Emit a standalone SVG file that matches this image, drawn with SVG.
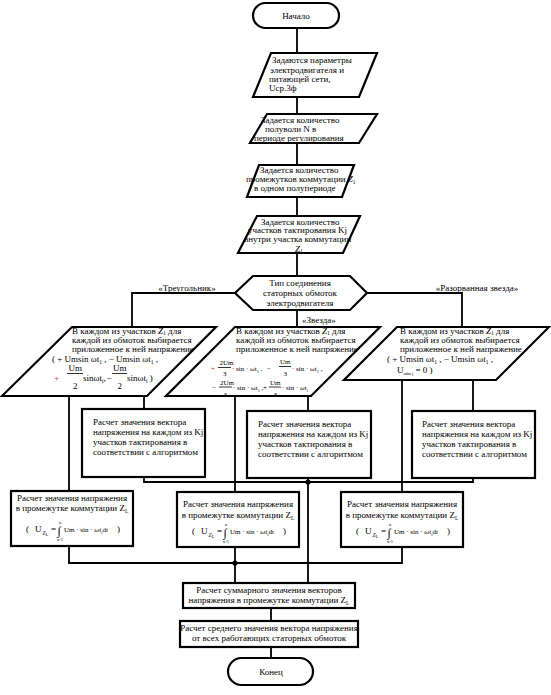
<svg xmlns="http://www.w3.org/2000/svg" width="551" height="695" viewBox="0 0 551 695">
<style>
.s{fill:#fff;stroke:#000;stroke-width:2.2}
.c{fill:none;stroke:#000;stroke-width:1.8}
.fb{fill:none;stroke:#000;stroke-width:0.8}
text{font-family:"Liberation Serif","Times New Roman",serif;font-size:9px;fill:#000}
.m{text-anchor:middle}
.f{font-size:7px}
.sb{font-size:5.5px}
.t{font-size:4.5px}
.it{font-style:italic}
.r{fill:#d03030}
.ig{font-size:12px}
</style>
<rect width="551" height="695" fill="#fff"/>
<g id="connectors">
<path class="c" d="M297,28V53 M297,97V114 M297,143V165 M297,197V216 M297,253V276 M235,293H132V327 M297,310V327 M367,293H462V327 M69,396V491 M144,396V409 M235,396V492 M308,396V411 M402,380V492 M473,380V411 M144,477V482H473V478 M308,478V583 M69,546V563H402V547 M235,547V583 M271,608V621 M271,647V658"/>
<circle cx="308" cy="482" r="2.6"/>
<circle cx="235" cy="563" r="2.6"/>
<text x="187" y="291" class="m">«Треугольник»</text>
<text x="302" y="323">«Звезда»</text>
<text x="477" y="291" class="m">«Разорванная звезда»</text>
</g>
<g id="n-start">
<rect class="s" x="253" y="3" width="86" height="25" rx="12.5"/>
<text x="296" y="19" class="m">Начало</text>
</g>
<g id="n-p1">
<polygon class="s" points="271,53 377,53 359,97 253,97"/>
<text x="272" y="63">Задаются параметры</text>
<text x="270" y="73">электродвигателя и</text>
<text x="269" y="82">питающей сети,</text>
<text x="269" y="91">Uср.3ф</text>
</g>
<g id="n-p2">
<polygon class="s" points="267,114 377,114 359,143 250,143"/>
<text x="261" y="123">Задается количество</text>
<text x="265" y="132">полуволи N в</text>
<text x="254" y="141">периоде регулирования</text>
</g>
<g id="n-p3">
<polygon class="s" points="259,165 354,165 342,197 247,197"/>
<text x="260" y="173">Задается количество</text>
<text x="246" y="182">промежутков коммутации <tspan class="it">Z</tspan><tspan class="sb" dy="1.5">1</tspan></text>
<text x="254" y="191">в одном полупериоде</text>
</g>
<g id="n-p4">
<polygon class="s" points="257,216 360,216 343,253 238,253"/>
<text x="261" y="224.5">Задается количество</text>
<text x="248" y="233">участков тактирования Kj</text>
<text x="244" y="241.5">внутри участка коммутации</text>
<text x="295" y="251.5"><tspan class="it">Z</tspan><tspan class="sb" dy="1.5">1</tspan></text>
</g>
<g id="n-type">
<polygon class="s" points="235,293 253,276 350,276 367,293 350,310 253,310"/>
<text x="300" y="286" class="m">Тип соединения</text>
<text x="300" y="296" class="m">статорных обмоток</text>
<text x="300" y="306" class="m">электродвигателя</text>
</g>
<g id="n-tri">
<polygon class="s" points="72,327 216,327 147,396 2,396"/>
<text x="72" y="333.5">В каждом из участков <tspan class="it">Z</tspan><tspan class="sb" dy="1.5">1</tspan><tspan dy="-1.5"> для</tspan></text>
<text x="72" y="342.5">каждой из обмоток выбирается</text>
<text x="72" y="351.5">приложенное к ней напряжение</text>
<text x="52" y="362">( + Umsin ωt<tspan class="sb" dy="1.5">1</tspan><tspan dy="-1.5"> , − Umsin ωt</tspan><tspan class="sb" dy="1.5">1</tspan><tspan dy="-1.5"> ,</tspan></text>
<text y="381"><tspan x="54" class="r">+</tspan><tspan x="68.5" y="371">Um</tspan><tspan x="73" y="389">2</tspan><tspan x="83" y="381">sinωt</tspan><tspan class="sb" dy="1.5">i</tspan><tspan dy="-1.5">,</tspan><tspan x="106.5">−</tspan><tspan x="113" y="371">Um</tspan><tspan x="117.5" y="389">2</tspan><tspan x="127" y="381">sinωt</tspan><tspan class="sb" dy="1.5">i</tspan><tspan dy="-1.5"> )</tspan></text>
<path class="fb" d="M67,373.5H83 M112,373.5H127"/>
</g>
<g id="n-star">
<polygon class="s" points="235,327 380,327 311,396 166,396"/>
<text x="236" y="333.5">В каждом из участков <tspan class="it">Z</tspan><tspan class="sb" dy="1.5">1</tspan><tspan dy="-1.5"> для</tspan></text>
<text x="236" y="342.5">каждой из обмоток выбирается</text>
<text x="236" y="351.5">приложенное к ней напряжение</text>
<text y="371" class="f"><tspan x="211" class="r">+</tspan><tspan x="219.5" y="365">2Um</tspan><tspan x="223" y="376">3</tspan><tspan x="232" y="371">· sin · ωt</tspan><tspan class="t" dy="1.5">1</tspan><tspan dy="-1.5"> ,</tspan><tspan x="267">−</tspan><tspan x="280" y="364">Um</tspan><tspan x="283.5" y="376">3</tspan><tspan x="292" y="371">· sin · ωt</tspan><tspan class="t" dy="1.5">1</tspan><tspan dy="-1.5"> ,</tspan></text>
<text y="390" class="f"><tspan x="212">−</tspan><tspan x="220" y="385">2Um</tspan><tspan x="223.5" y="397">3</tspan><tspan x="233" y="390">· sin · ωt</tspan><tspan class="t" dy="1.5">1</tspan><tspan dy="-1.5"> ,</tspan><tspan x="263">+</tspan><tspan x="270" y="385">Um</tspan><tspan x="273.5" y="397">3</tspan><tspan x="282" y="390">· sin · ωt</tspan><tspan class="t" dy="1.5">i</tspan></text>
<path class="fb" d="M218,367.5H231 M279,366.5H291 M219,387H232 M269,387H281"/>
</g>
<g id="n-open">
<polygon class="s" points="397,327 549,327 496,380 344,380"/>
<text x="400" y="333.5">В каждом из участков <tspan class="it">Z</tspan><tspan class="sb" dy="1.5">1</tspan><tspan dy="-1.5"> для</tspan></text>
<text x="400" y="342.5">каждой из обмоток выбирается</text>
<text x="400" y="351.5">приложенное к ней напряжение</text>
<text x="387" y="362">( + Umsin ωt<tspan class="sb" dy="1.5">1</tspan><tspan dy="-1.5"> , − Umsin ωt</tspan><tspan class="sb" dy="1.5">1</tspan><tspan dy="-1.5"> ,</tspan></text>
<text x="397" y="373">U<tspan class="t" dy="2">обм j</tspan><tspan dy="-2"> = 0 )</tspan></text>
</g>
<g id="n-vec1">
<rect class="s" x="82" y="409" width="123" height="68"/>
<text x="93" y="425">Расчет значения вектора</text>
<text x="93" y="435">напряжения на каждом из Kj</text>
<text x="93" y="445">участков тактирования в</text>
<text x="93" y="455">соответствии с алгоритмом</text>
</g>
<g id="n-vec2">
<rect class="s" x="247" y="411" width="124" height="67"/>
<text x="258" y="427">Расчет значения вектора</text>
<text x="258" y="437">напряжения на каждом из Kj</text>
<text x="258" y="447">участков тактирования в</text>
<text x="258" y="457">соответствии с алгоритмом</text>
</g>
<g id="n-vec3">
<rect class="s" x="412" y="411" width="123" height="67"/>
<text x="422" y="427">Расчет значения вектора</text>
<text x="422" y="437">напряжения на каждом из Kj</text>
<text x="422" y="447">участков тактирования в</text>
<text x="422" y="457">соответствии с алгоритмом</text>
</g>
<g id="n-int1">
<rect class="s" x="11" y="491" width="122" height="55"/>
<text x="72" y="500.5" class="m">Расчет значения напряжения</text>
<text x="72" y="511" class="m">в промежутке коммутации Z<tspan class="sb" dy="1.5">L</tspan></text>
<text transform="translate(72,532)"><tspan x="-46" y="0">(</tspan><tspan x="-37">U</tspan><tspan class="sb it" x="-29.5" y="2.5">Z</tspan><tspan class="t" dy="1">L</tspan><tspan x="-21" y="0">=</tspan><tspan class="ig" x="-14.5" y="2.5">∫</tspan><tspan class="t" x="-13" y="-8.5">n</tspan><tspan class="t" x="-15" y="8.5">n-1</tspan><tspan class="f" x="-8" y="0">Um · sin · </tspan><tspan class="f it">ωt</tspan><tspan class="t" dy="1.5">i</tspan><tspan class="f" dy="-1.5">dt</tspan><tspan x="45" y="0">)</tspan></text>
</g>
<g id="n-int2">
<rect class="s" x="177" y="492" width="122" height="55"/>
<text x="238" y="507" class="m">Расчет значения напряжения</text>
<text x="238" y="518" class="m">в промежутке коммутации Z<tspan class="sb" dy="1.5">L</tspan></text>
<text transform="translate(238,534)"><tspan x="-46" y="0">(</tspan><tspan x="-37">U</tspan><tspan class="sb it" x="-29.5" y="2.5">Z</tspan><tspan class="t" dy="1">L</tspan><tspan x="-21" y="0">=</tspan><tspan class="ig" x="-14.5" y="2.5">∫</tspan><tspan class="t" x="-13" y="-8.5">n</tspan><tspan class="t" x="-15" y="8.5">n-1</tspan><tspan class="f" x="-8" y="0">Um · sin · </tspan><tspan class="f it">ωt</tspan><tspan class="t" dy="1.5">i</tspan><tspan class="f" dy="-1.5">dt</tspan><tspan x="45" y="0">)</tspan></text>
</g>
<g id="n-int3">
<rect class="s" x="341" y="492" width="122" height="55"/>
<text x="402" y="507" class="m">Расчет значения напряжения</text>
<text x="402" y="518" class="m">в промежутке коммутации Z<tspan class="sb" dy="1.5">L</tspan></text>
<text transform="translate(402,534)"><tspan x="-46" y="0">(</tspan><tspan x="-37">U</tspan><tspan class="sb it" x="-29.5" y="2.5">Z</tspan><tspan class="t" dy="1">L</tspan><tspan x="-21" y="0">=</tspan><tspan class="ig" x="-14.5" y="2.5">∫</tspan><tspan class="t" x="-13" y="-8.5">n</tspan><tspan class="t" x="-15" y="8.5">n-1</tspan><tspan class="f" x="-8" y="0">Um · sin · </tspan><tspan class="f it">ωt</tspan><tspan class="t" dy="1.5">i</tspan><tspan class="f" dy="-1.5">dt</tspan><tspan x="45" y="0">)</tspan></text>
</g>
<g id="n-sum">
<rect class="s" x="183" y="583" width="172" height="25"/>
<text x="269" y="593" class="m">Расчет суммарного значения векторов</text>
<text x="269" y="603" class="m">напряжения в промежутке коммутации Z<tspan class="sb" dy="1.5">L</tspan></text>
</g>
<g id="n-avg">
<rect class="s" x="180" y="621" width="178" height="26"/>
<text x="269" y="631" class="m">Расчет среднего значения вектора напряжения</text>
<text x="269" y="641" class="m">от всех работающих статорных обмоток</text>
</g>
<g id="n-end">
<rect class="s" x="228" y="658" width="85" height="27" rx="13.5"/>
<text x="271" y="675" class="m">Конец</text>
</g>
</svg>
